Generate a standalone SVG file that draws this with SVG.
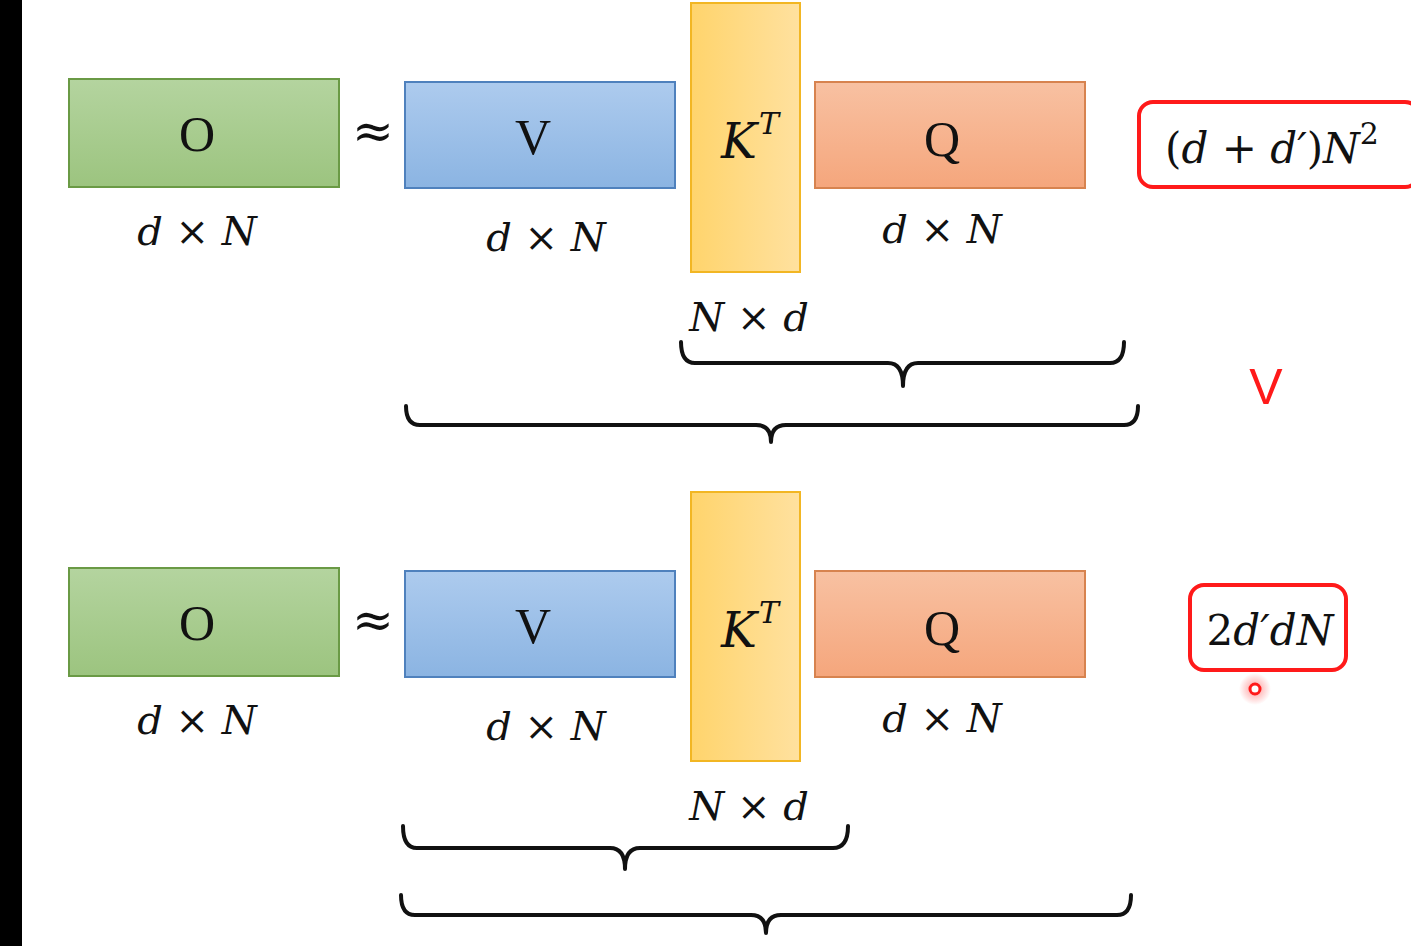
<svg xmlns="http://www.w3.org/2000/svg" width="1411" height="946" viewBox="0 0 1411 946">
<defs>
<linearGradient id="gO" x1="0" y1="0" x2="0" y2="1"><stop offset="0" stop-color="#b4d49f"/><stop offset="1" stop-color="#9cc47f"/></linearGradient>
<linearGradient id="gV" x1="0" y1="0" x2="0" y2="1"><stop offset="0" stop-color="#adcbee"/><stop offset="1" stop-color="#8bb4e2"/></linearGradient>
<linearGradient id="gK" x1="0" y1="0" x2="1" y2="0"><stop offset="0" stop-color="#ffd46c"/><stop offset="1" stop-color="#ffe19f"/></linearGradient>
<linearGradient id="gQ" x1="0" y1="0" x2="0" y2="1"><stop offset="0" stop-color="#f8c1a2"/><stop offset="1" stop-color="#f5a67c"/></linearGradient>
<radialGradient id="glow"><stop offset="0" stop-color="#ff3030" stop-opacity="0.5"/><stop offset="1" stop-color="#ff3030" stop-opacity="0"/></radialGradient>
</defs>
<style>
.o{fill:url(#gO);stroke:#6a9a45;stroke-width:2}
.v{fill:url(#gV);stroke:#4f81bd;stroke-width:2}
.k{fill:url(#gK);stroke:#f2b623;stroke-width:2}
.q{fill:url(#gQ);stroke:#d7834f;stroke-width:2}
.big{font-family:"Liberation Serif",serif;font-size:50px;fill:#111;text-anchor:middle}
.m{font-family:"DejaVu Serif",serif;font-size:40px;fill:#111;text-anchor:middle}
.ap{font-size:50px}
.kt{font-size:48px}
.sup{font-size:30px}
.c{font-size:42px}
.i{font-style:italic}
.br{fill:none;stroke:#111;stroke-width:4;stroke-linecap:round;stroke-linejoin:round}
.red{fill:#fff;stroke:#ff1a1a;stroke-width:4}
</style>
<rect x="0" y="0" width="1411" height="946" fill="#fff"/>
<rect x="0" y="0" width="22" height="946" fill="#000"/>

<g id="row1">
<g id="O1"><rect class="o" x="69" y="79" width="270" height="108"/><text class="big" x="197" y="151">O</text><text class="m" x="197" y="245"><tspan class="i">d</tspan> × <tspan class="i">N</tspan></text></g>
<text id="approx1" class="m ap" x="373" y="148">≈</text>
<g id="V1"><rect class="v" x="405" y="82" width="270" height="106"/><text class="big" x="533" y="154">V</text><text class="m" x="546" y="251"><tspan class="i">d</tspan> × <tspan class="i">N</tspan></text></g>
<g id="K1"><rect class="k" x="691" y="3" width="109" height="269"/><text class="m kt" x="750" y="158"><tspan class="i">K</tspan><tspan class="i sup" dx="2" dy="-24">T</tspan></text><text class="m" x="749" y="331"><tspan class="i">N</tspan> × <tspan class="i">d</tspan></text></g>
<g id="Q1"><rect class="q" x="815" y="82" width="270" height="106"/><text class="big" x="942" y="156">Q</text><text class="m" x="942" y="243"><tspan class="i">d</tspan> × <tspan class="i">N</tspan></text></g>
<g id="cost1"><rect class="red" x="1139" y="102" width="280" height="85" rx="14"/><text class="m c" x="1272" y="163"><tspan>(</tspan><tspan class="i">d</tspan> + <tspan class="i">d′</tspan>)<tspan class="i">N</tspan><tspan class="sup" dy="-19">2</tspan></text></g>
<text id="cmp" x="1266" y="404" font-family="Liberation Sans,sans-serif" font-size="50" fill="#ff1a1a" text-anchor="middle">V</text>
</g>

<g id="row2">
<g id="O2"><rect class="o" x="69" y="568" width="270" height="108"/><text class="big" x="197" y="640">O</text><text class="m" x="197" y="734"><tspan class="i">d</tspan> × <tspan class="i">N</tspan></text></g>
<text id="approx2" class="m ap" x="373" y="637">≈</text>
<g id="V2"><rect class="v" x="405" y="571" width="270" height="106"/><text class="big" x="533" y="643">V</text><text class="m" x="546" y="740"><tspan class="i">d</tspan> × <tspan class="i">N</tspan></text></g>
<g id="K2"><rect class="k" x="691" y="492" width="109" height="269"/><text class="m kt" x="750" y="647"><tspan class="i">K</tspan><tspan class="i sup" dx="2" dy="-24">T</tspan></text><text class="m" x="749" y="820"><tspan class="i">N</tspan> × <tspan class="i">d</tspan></text></g>
<g id="Q2"><rect class="q" x="815" y="571" width="270" height="106"/><text class="big" x="942" y="645">Q</text><text class="m" x="942" y="732"><tspan class="i">d</tspan> × <tspan class="i">N</tspan></text></g>
<g id="cost2"><rect class="red" x="1190" y="585" width="156" height="85" rx="14"/><text class="m c" x="1270" y="645"><tspan>2</tspan><tspan class="i">d′dN</tspan></text></g>
<circle cx="1255" cy="689" r="16" fill="url(#glow)"/>
<circle cx="1255" cy="689" r="5" fill="#fff" stroke="#ff1a1a" stroke-width="3"/>
</g>

<g id="connectors">
<path class="br" d="M681 342 Q681 363 695 363 L888 363 Q903 363 903 386 Q903 363 918 363 L1110 363 Q1124 363 1124 342"/>
<path class="br" d="M406 406 Q406 425 420 425 L756 425 Q771 425 771 442 Q771 425 786 425 L1124 425 Q1138 425 1138 406"/>
<path class="br" d="M403 826 Q403 848 417 848 L610 848 Q625 848 625 869 Q625 848 640 848 L833 848 Q848 848 848 826"/>
<path class="br" d="M401 895 Q401 915 415 915 L751 915 Q766 915 766 933 Q766 915 781 915 L1117 915 Q1131 915 1131 895"/>
</g>
</svg>
